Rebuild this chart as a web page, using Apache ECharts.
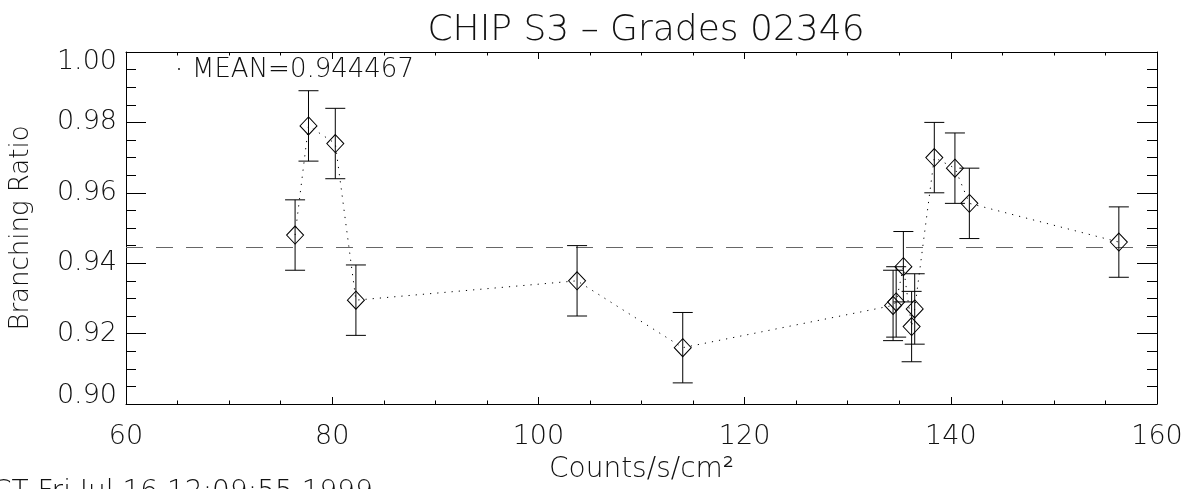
<!DOCTYPE html>
<html>
<head>
<meta charset="utf-8">
<script src="https://cdn.jsdelivr.net/npm/echarts@6/dist/echarts.min.js"></script>
<style>
html,body{margin:0;padding:0;background:#fff;}
#chart{width:1189px;height:489px;}
</style>
</head>
<body>
<div id="chart"></div>
<script>
// ---- data ----
const countsRate = [76.4, 77.7, 80.3, 82.3, 103.75, 114.0, 134.4, 134.7, 135.4, 136.2, 136.5, 138.4, 140.4, 141.8, 156.3];
const branchRatio = [0.948, 0.979, 0.974, 0.9295, 0.935, 0.916, 0.928, 0.929, 0.939, 0.922, 0.927, 0.970, 0.967, 0.957, 0.946];
const ratioError = [0.01, 0.01, 0.01, 0.01, 0.01, 0.01, 0.01, 0.01, 0.01, 0.01, 0.01, 0.01, 0.01, 0.01, 0.01];
const meanValue = 0.944467;
const xTicks = [60, 80, 100, 120, 140, 160];
const yTicks = [0.90, 0.92, 0.94, 0.96, 0.98, 1.00];
const titleText = 'CHIP S3 \u2013 Grades 02346';
const xTitle = 'Counts/s/cm\u00B2';
const yTitle = 'Branching Ratio';
const stampText = 'CT Fri Jul 16 12:09:55 1999';

const FONT = 'DejaVu Sans';
const TXT = '#111';

const points = countsRate.map((x, i) => [x, branchRatio[i]]);
const errData = countsRate.map((x, i) => [x, branchRatio[i] - ratioError[i], branchRatio[i] + ratioError[i]]);

const xMin = xTicks[0], xMax = xTicks[xTicks.length - 1];
const yMin = yTicks[0], yMax = yTicks[yTicks.length - 1];
const meanLine = [[xMin, meanValue], [xMax, meanValue]];

const chart = echarts.init(document.getElementById('chart'), null, {renderer: 'canvas'});

function baseX(pos, showLabel) {
  return {
    type: 'value', position: pos, min: xMin, max: xMax, interval: 20,
    axisLine: {show: true, onZero: false, lineStyle: {color: '#000', width: 1}},
    axisTick: {show: true, inside: true, length: 7, lineStyle: {color: '#000', width: 1}},
    minorTick: {show: true, splitNumber: 4, length: 3.5, lineStyle: {color: '#000', width: 1}},
    splitLine: {show: false}, minorSplitLine: {show: false},
    axisLabel: {show: showLabel, margin: 19, fontFamily: FONT, fontSize: 27, fontWeight: 200, color: TXT}
  };
}
function baseY(pos, showLabel) {
  return {
    type: 'value', position: pos, min: yMin, max: yMax, interval: 0.02,
    axisLine: {show: true, onZero: false, lineStyle: {color: '#000', width: 1}},
    axisTick: {show: true, inside: true, length: 20, lineStyle: {color: '#000', width: 1}},
    minorTick: {show: true, splitNumber: 4, length: 10, lineStyle: {color: '#000', width: 1}},
    splitLine: {show: false}, minorSplitLine: {show: false},
    axisLabel: {
      show: showLabel, margin: 9, fontFamily: FONT, fontSize: 27, fontWeight: 200, color: TXT,
      formatter: function (v) {
        const s = (+v).toFixed(2);
        if (Math.abs(v - yMax) < 1e-6) return '{top|' + s + '}';
        if (Math.abs(v - yMin) < 1e-6) return '{bot|' + s + '}';
        return s;
      },
      rich: {
        top: {fontFamily: FONT, fontSize: 27, fontWeight: 200, color: TXT, padding: [20, 0, 0, 0]},
        bot: {fontFamily: FONT, fontSize: 27, fontWeight: 200, color: TXT, padding: [0, 0, 16, 0]}
      }
    }
  };
}

const xBottom = baseX('bottom', true);
xBottom.name = xTitle;
xBottom.nameLocation = 'middle';
xBottom.nameGap = 52;
xBottom.nameTextStyle = {fontFamily: FONT, fontSize: 28, fontWeight: 200, color: TXT};
const yLeft = baseY('left', true);
yLeft.name = yTitle;
yLeft.nameLocation = 'middle';
yLeft.nameGap = 92;
yLeft.nameTextStyle = {fontFamily: FONT, fontSize: 26, fontWeight: 200, color: TXT};

const option = {
  animation: false,
  backgroundColor: '#fff',
  title: {
    text: titleText, left: 641, top: 8, textAlign: 'center',
    textStyle: {fontFamily: FONT, fontSize: 36, fontWeight: 200, color: TXT}
  },
  grid: {left: 126, right: 32, top: 52, bottom: 85, containLabel: false},
  xAxis: [xBottom, baseX('top', false)],
  yAxis: [yLeft, baseY('right', false)],
  graphic: [
    {type: 'circle', shape: {cx: 179, cy: 69, r: 0.9}, style: {fill: '#000'}},
    {type: 'text', x: 192, y: 70, style: {text: 'MEAN=' + meanValue.toFixed(6), fontFamily: FONT, fontSize: 26, fontWeight: 200, fill: TXT, verticalAlign: 'middle', align: 'left'}},
    {type: 'text', x: -8, y: 493, style: {text: stampText, fontFamily: FONT, fontSize: 28, fontWeight: 200, fill: TXT, verticalAlign: 'middle', align: 'left'}}
  ],
  series: [
    {
      type: 'line',
      xAxisIndex: 0, yAxisIndex: 0,
      data: meanLine,
      z: 2,
      symbol: 'none',
      silent: true,
      lineStyle: {color: '#666', width: 1.2, type: [17, 13]}
    },
    {
      type: 'custom',
      xAxisIndex: 0, yAxisIndex: 0,
      data: errData,
      encode: {x: 0, y: [1, 2]},
      z: 3,
      renderItem: function (params, api) {
        const lo = api.coord([api.value(0), api.value(1)]);
        const hi = api.coord([api.value(0), api.value(2)]);
        const half = 10;
        const st = {stroke: '#000', lineWidth: 1};
        return {
          type: 'group',
          children: [
            {type: 'line', shape: {x1: lo[0], y1: lo[1], x2: hi[0], y2: hi[1]}, style: st},
            {type: 'line', shape: {x1: lo[0] - half, y1: lo[1], x2: lo[0] + half, y2: lo[1]}, style: st},
            {type: 'line', shape: {x1: hi[0] - half, y1: hi[1], x2: hi[0] + half, y2: hi[1]}, style: st}
          ]
        };
      }
    },
    {
      type: 'line',
      xAxisIndex: 0, yAxisIndex: 0,
      data: points,
      z: 4,
      symbol: 'diamond',
      symbolSize: [17, 18],
      showSymbol: true,
      itemStyle: {color: 'rgba(0,0,0,0)', borderColor: '#000', borderWidth: 1},
      lineStyle: {color: '#000', width: 1, type: [1.2, 6]}
    }
  ]
};
chart.setOption(option);
</script>
</body>
</html>
